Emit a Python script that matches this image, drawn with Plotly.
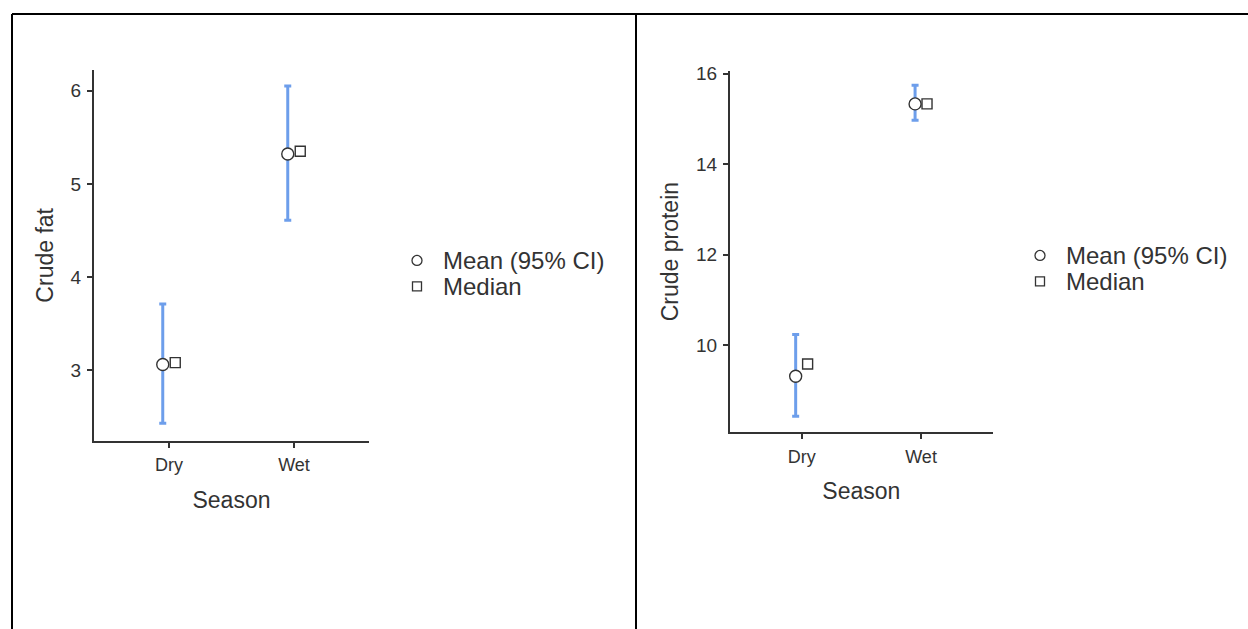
import plotly.graph_objects as go

W, H = 1248, 629

# ---------------- data ----------------
seasons = ["Dry", "Wet"]

fat_mean = [3.06, 5.32]
fat_ci_low = [2.43, 4.61]
fat_ci_high = [3.71, 6.05]
fat_median = [3.08, 5.35]

protein_mean = [9.32, 15.33]
protein_ci_low = [8.44, 14.97]
protein_ci_high = [10.24, 15.74]
protein_median = [9.59, 15.33]

legend_labels = ["Mean (95% CI)", "Median"]
y_titles = ["Crude fat", "Crude protein"]
x_title = "Season"

# ---------------- style ----------------
FONT = "Liberation Sans, Arial, sans-serif"
TXT = "#333333"
AX = "#333333"
ERR = "#6d9eeb"
OFF = 0.05  # horizontal dodge in category units

def px_x(p):
    return p / W

def px_y(r):
    # page pixel -> paper fraction (compensates the observed vertical placement)
    p = (r - 7.1) / 0.989
    return 1 - p / H

fig = go.Figure()

panels = [
    dict(mean=fat_mean, lo=fat_ci_low, hi=fat_ci_high, med=fat_median,
         xa="x", ya="y", xdom=[px_x(94), px_x(369)], ydom=[px_y(440.7), px_y(69)],
         yrange=[2.24, 6.225], ytick=[3, 4, 5, 6], ytitle=y_titles[0],
         leg_x=417, leg_text_x=441, leg_y=[260, 286]),
    dict(mean=protein_mean, lo=protein_ci_low, hi=protein_ci_high, med=protein_median,
         xa="x2", ya="y2", xdom=[px_x(730), px_x(992.7)], ydom=[px_y(432.3), px_y(70)],
         yrange=[8.08, 16.06], ytick=[10, 12, 14, 16], ytitle=y_titles[1],
         leg_x=1040, leg_text_x=1064, leg_y=[255, 281]),
]

xcats = list(range(len(seasons)))

for i, p in enumerate(panels):
    fig.add_trace(go.Scatter(
        x=[c - OFF for c in xcats], y=p["mean"], mode="markers",
        xaxis=p["xa"], yaxis=p["ya"], showlegend=False,
        name=legend_labels[0],
        error_y=dict(type="data", symmetric=False,
                     array=[h - m for h, m in zip(p["hi"], p["mean"])],
                     arrayminus=[m - l for l, m in zip(p["lo"], p["mean"])],
                     color=ERR, thickness=3, width=3.5),
        marker=dict(symbol="circle", size=12, color="white",
                    line=dict(color=AX, width=1.4)),
    ))
    fig.add_trace(go.Scatter(
        x=[c + OFF for c in xcats], y=p["med"], mode="markers",
        xaxis=p["xa"], yaxis=p["ya"], showlegend=False,
        name=legend_labels[1],
        marker=dict(symbol="square", size=10, color="white",
                    line=dict(color=AX, width=1.4)),
    ))

    sfx = "" if i == 0 else "2"
    fig.update_layout(**{
        "xaxis" + sfx: dict(
            domain=p["xdom"], anchor="y" + sfx, range=[-0.6, 1.6],
            tickvals=xcats, ticktext=seasons,
            showline=True, linecolor=AX, linewidth=2,
            ticks="outside", ticklen=5, tickwidth=2, tickcolor=AX,
            ticklabelstandoff=2,
            showgrid=False, zeroline=False, fixedrange=True,
            tickfont=dict(family=FONT, size=18, color=TXT),
            title=dict(text=x_title, standoff=17,
                       font=dict(family=FONT, size=23, color=TXT)),
        ),
        "yaxis" + sfx: dict(
            domain=p["ydom"], anchor="x" + sfx, range=p["yrange"],
            tickvals=p["ytick"],
            showline=True, linecolor=AX, linewidth=2,
            ticks="outside", ticklen=5, tickwidth=2, tickcolor=AX,
            ticklabelstandoff=2,
            showgrid=False, zeroline=False, fixedrange=True,
            tickfont=dict(family=FONT, size=19, color=TXT),
            title=dict(text=p["ytitle"], standoff=11,
                       font=dict(family=FONT, size=23, color=TXT)),
        ),
    })

    # manual legend (markers as shapes, text as annotations)
    cx = px_x(p["leg_x"])
    cy0 = px_y(p["leg_y"][0])
    cy1 = px_y(p["leg_y"][1])
    fig.add_shape(type="circle", xref="paper", yref="paper",
                  xsizemode="pixel", ysizemode="pixel",
                  xanchor=cx, yanchor=cy0, x0=-5, x1=5, y0=-5, y1=5,
                  line=dict(color=AX, width=1.3), fillcolor="white")
    fig.add_shape(type="rect", xref="paper", yref="paper",
                  xsizemode="pixel", ysizemode="pixel",
                  xanchor=cx, yanchor=cy1, x0=-4.5, x1=4.5, y0=-4.5, y1=4.5,
                  line=dict(color=AX, width=1.3), fillcolor="white")
    for lbl, yy in zip(legend_labels, [cy0, cy1]):
        fig.add_annotation(text=lbl, xref="paper", yref="paper",
                           x=px_x(p["leg_text_x"]), y=yy, xanchor="left", yanchor="middle",
                           showarrow=False,
                           font=dict(family=FONT, size=24, color=TXT))

# table borders
BL = dict(color="black", width=2)
fig.add_shape(type="line", xref="paper", yref="paper",
              x0=px_x(12), x1=1, y0=px_y(13), y1=px_y(13), line=BL)
fig.add_shape(type="line", xref="paper", yref="paper",
              x0=px_x(12), x1=px_x(12), y0=px_y(13), y1=0, line=BL)
fig.add_shape(type="line", xref="paper", yref="paper",
              x0=px_x(636), x1=px_x(636), y0=px_y(13), y1=0, line=BL)

fig.update_layout(
    width=W, height=H,
    margin=dict(l=0, r=0, t=0, b=0),
    paper_bgcolor="white", plot_bgcolor="white",
    showlegend=False,
    font=dict(family=FONT, color=TXT),
)

fig.write_html("out.html",
               config={"displayModeBar": False},
               post_script="document.body.style.margin='0';document.documentElement.style.overflow='hidden';")
